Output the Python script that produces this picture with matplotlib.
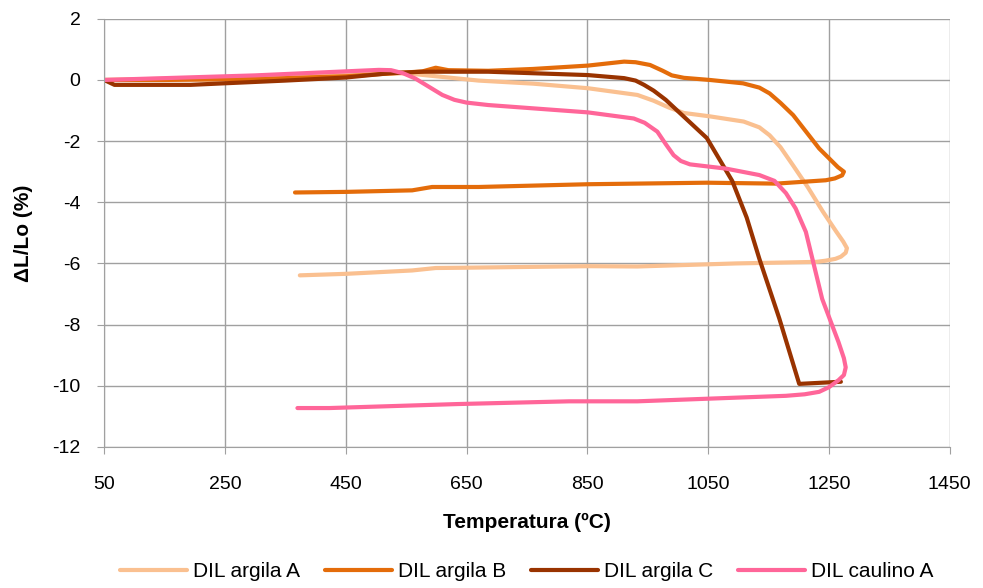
import matplotlib.pyplot as plt

# DIL argila A
temp_a = [50, 150, 300, 450, 550, 600, 670, 760, 851, 933, 960, 985, 1010, 1053, 1109, 1135, 1152, 1170, 1191, 1215, 1240,
          1262, 1274, 1280, 1278, 1270, 1261, 1245, 1229, 1097, 933, 851, 648, 599, 560, 451, 374]
dl_a = [0.0, 0.04, 0.1, 0.18, 0.22, 0.12, -0.02, -0.12, -0.27, -0.49, -0.68, -0.9, -1.08, -1.19, -1.36, -1.55, -1.81, -2.2, -2.8, -3.5, -4.3,
        -4.95, -5.29, -5.5, -5.65, -5.78, -5.85, -5.91, -5.95, -6.0, -6.1, -6.09, -6.14, -6.15, -6.23, -6.34, -6.39]

# DIL argila B
temp_b = [50, 150, 300, 450, 577, 599, 620, 686, 760, 851, 911, 930, 954, 975, 990, 1010, 1053, 1108, 1135, 1152, 1170, 1191,
          1234, 1265, 1275, 1272, 1260, 1245, 1163, 1048, 851, 670, 648, 593, 560, 451, 366]
dl_b = [0.0, 0.0, 0.03, 0.12, 0.28, 0.4, 0.32, 0.3, 0.36, 0.47, 0.6, 0.58, 0.49, 0.3, 0.15, 0.07, 0.0, -0.11, -0.25, -0.44, -0.75, -1.15,
        -2.24, -2.85, -3.0, -3.12, -3.22, -3.28, -3.39, -3.36, -3.41, -3.5, -3.5, -3.5, -3.61, -3.66, -3.68]

# DIL argila C
temp_c = [50, 67, 193, 248, 350, 450, 522, 577, 686, 851, 911, 930, 944, 960, 980, 999, 1048, 1090, 1114, 1135, 1168, 1201,
          1240, 1270]
dl_c = [0.0, -0.16, -0.16, -0.11, -0.02, 0.08, 0.22, 0.27, 0.27, 0.16, 0.06, -0.02, -0.16, -0.35, -0.65, -1.0, -1.9, -3.3, -4.5, -5.85, -7.8, -9.94,
        -9.9, -9.87]

# DIL caulino A
temp_d = [50, 300, 505, 525, 545, 565, 590, 610, 630, 650, 686, 851, 927, 945, 966, 980, 993, 1005, 1020, 1080, 1135, 1160,
          1179, 1195, 1212, 1239, 1266, 1275, 1278, 1275, 1266, 1250, 1234, 1210, 1179, 1042, 933, 820, 634, 423, 370]
dl_d = [0.0, 0.15, 0.33, 0.32, 0.22, 0.05, -0.25, -0.49, -0.65, -0.74, -0.82, -1.06, -1.26, -1.4, -1.69, -2.1, -2.46, -2.65, -2.76, -2.9, -3.11, -3.3,
        -3.7, -4.2, -4.97, -7.16, -8.57, -9.1, -9.4, -9.65, -9.82, -10.05, -10.2, -10.28, -10.33, -10.43, -10.51, -10.51, -10.6, -10.73, -10.73]

series = [
    ('DIL argila A', temp_a, dl_a, '#FAC090'),
    ('DIL argila B', temp_b, dl_b, '#E46C0A'),
    ('DIL argila C', temp_c, dl_c, '#993300'),
    ('DIL caulino A', temp_d, dl_d, '#FF6699'),
]

plt.rcParams['font.family'] = ['Liberation Sans', 'DejaVu Sans']
plt.rcParams['axes.unicode_minus'] = False

fig = plt.figure(figsize=(9.83, 5.88), dpi=100)
ax = fig.add_axes([0.106, 0.240, 0.860, 0.728])

for name, t, d, c in series:
    ax.plot(t, d, color=c, linewidth=3, label=name, solid_capstyle='round', solid_joinstyle='round')

ax.set_xlim(50, 1450)
ax.set_ylim(-12, 2)
ax.set_xticks(range(50, 1451, 200))
ax.set_yticks(range(-12, 3, 2))
ax.grid(True, color='#A0A0A0', linewidth=1)
ax.set_axisbelow(True)
for s in ['top', 'right']:
    ax.spines[s].set_visible(False)
for s in ['left', 'bottom']:
    ax.spines[s].set_color('#A0A0A0')
ax.tick_params(colors='#A0A0A0', labelcolor='black', labelsize=14, length=5)
ax.tick_params(axis='x', pad=16)
ax.tick_params(axis='y', pad=12)

ax.set_xlabel('Temperatura (ºC)', fontsize=15, fontweight='bold', labelpad=14)
ax.set_ylabel('ΔL/Lo (%)', fontsize=15, fontweight='bold', labelpad=14)

ax.legend(loc='upper center', bbox_to_anchor=(0.5, -0.225), ncol=4, frameon=False,
          fontsize=15, handlelength=3.2, columnspacing=1.2, handletextpad=0.3)

fig.savefig('out.png', dpi=100)
